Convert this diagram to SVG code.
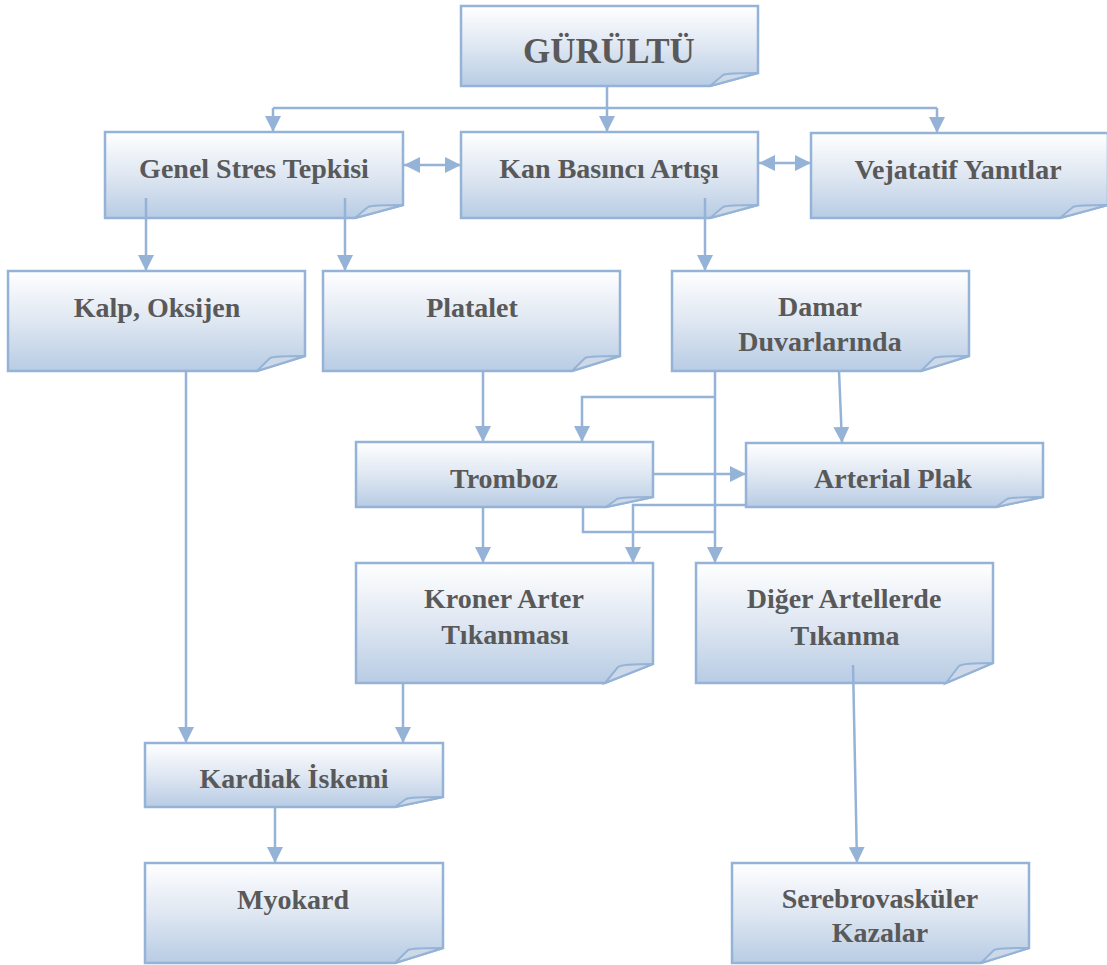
<svg xmlns="http://www.w3.org/2000/svg" width="1107" height="965" viewBox="0 0 1107 965">
<defs>
<linearGradient id="g" x1="0" y1="0" x2="0" y2="1">
<stop offset="0" stop-color="#ffffff"/>
<stop offset="0.5" stop-color="#dfe7f2"/>
<stop offset="1" stop-color="#b8cce4"/>
</linearGradient>
<marker id="ah" markerUnits="userSpaceOnUse" markerWidth="16" markerHeight="16" refX="16" refY="8" orient="auto-start-reverse" viewBox="0 0 16 16">
<path d="M0,0 L16,8 L0,16 Z" fill="#95b3d7"/>
</marker>
</defs>
<style>
.box{fill:url(#g);stroke:#95b3d7;stroke-width:2.5;stroke-linejoin:miter}
.fold{fill:#cdd9e8;stroke:#95b3d7;stroke-width:2}
.t{font-family:"Liberation Serif","Times New Roman",serif;font-weight:bold;font-size:28px;fill:#595959;text-anchor:middle}
.title{font-size:35px}
.c{fill:none;stroke:#95b3d7;stroke-width:2.5}
.a{marker-end:url(#ah)}
.d{marker-start:url(#ah);marker-end:url(#ah)}
</style>

<g id="n-gurultu">
<path class="box" d="M461,6 H758 V73 L710,86 H461 Z"/>
<path class="fold" d="M710,86 L723,75 Q727,73 758,73 Z"/>
<text class="t title" x="609" y="63">GÜRÜLTÜ</text>
</g>
<g id="n-genel">
<path class="box" d="M105,132 H403 V205 L355,218 H105 Z"/>
<path class="fold" d="M355,218 L368,207 Q372,205 403,205 Z"/>
<text class="t" x="254" y="178">Genel Stres Tepkisi</text>
</g>
<g id="n-kan">
<path class="box" d="M461,132 H758 V205 L710,218 H461 Z"/>
<path class="fold" d="M710,218 L723,207 Q727,205 758,205 Z"/>
<text class="t" x="609" y="178">Kan Basıncı Artışı</text>
</g>
<g id="n-vej">
<path class="box" d="M811,133 H1108 V205 L1060,218 H811 Z"/>
<path class="fold" d="M1060,218 L1073,207 Q1077,205 1108,205 Z"/>
<text class="t" x="958" y="179">Vejatatif Yanıtlar</text>
</g>
<g id="n-kalp">
<path class="box" d="M8,271 H305 V356 L257,371 H8 Z"/>
<path class="fold" d="M257,371 L270,358 Q274,356 305,356 Z"/>
<text class="t" x="157" y="317">Kalp, Oksijen</text>
</g>
<g id="n-platalet">
<path class="box" d="M323,271 H620 V356 L572,371 H323 Z"/>
<path class="fold" d="M572,371 L585,358 Q589,356 620,356 Z"/>
<text class="t" x="472" y="317">Platalet</text>
</g>
<g id="n-damar">
<path class="box" d="M672,271 H969 V356 L921,371 H672 Z"/>
<path class="fold" d="M921,371 L934,358 Q938,356 969,356 Z"/>
<text class="t" x="820" y="316">Damar</text>
<text class="t" x="820" y="351">Duvarlarında</text>
</g>
<g id="n-tromboz">
<path class="box" d="M356,442 H653 V497 L606,507 H356 Z"/>
<path class="fold" d="M606,507 L617,499 Q621,497 653,497 Z"/>
<text class="t" x="504" y="488">Tromboz</text>
</g>
<g id="n-arterial">
<path class="box" d="M746,443 H1043 V497 L996,507 H746 Z"/>
<path class="fold" d="M996,507 L1007,499 Q1011,497 1043,497 Z"/>
<text class="t" x="893" y="488">Arterial Plak</text>
</g>
<g id="n-kroner">
<path class="box" d="M356,563 H653 V664 L605,683 H356 Z"/>
<path class="fold" d="M605,683 L618,667 Q622,664 653,664 Z"/>
<text class="t" x="504" y="608">Kroner Arter</text>
<text class="t" x="505" y="644">Tıkanması</text>
</g>
<g id="n-diger">
<path class="box" d="M696,563 H993 V663 L946,683 H696 Z"/>
<path class="fold" d="M946,683 L959,666 Q963,663 993,663 Z"/>
<text class="t" x="844" y="608">Diğer Artellerde</text>
<text class="t" x="845" y="645">Tıkanma</text>
</g>
<g id="n-kardiak">
<path class="box" d="M145,743 H443 V797 L395,807 H145 Z"/>
<path class="fold" d="M395,807 L406,799 Q410,797 443,797 Z"/>
<text class="t" x="294" y="788">Kardiak İskemi</text>
</g>
<g id="n-myokard">
<path class="box" d="M145,863 H443 V948 L395,963 H145 Z"/>
<path class="fold" d="M395,963 L408,950 Q412,948 443,948 Z"/>
<text class="t" x="293" y="909">Myokard</text>
</g>
<g id="n-sereb">
<path class="box" d="M732,863 H1029 V948 L981,963 H732 Z"/>
<path class="fold" d="M981,963 L994,950 Q998,948 1029,948 Z"/>
<text class="t" x="880" y="908">Serebrovasküler</text>
<text class="t" x="880" y="942">Kazalar</text>
</g>

<g id="connectors">
<path class="c" d="M273,108 H937"/>
<path class="c a" d="M607,86 V132"/>
<path class="c a" d="M273,108 V132"/>
<path class="c a" d="M937,108 V133"/>
<path class="c d" d="M404,165 H461"/>
<path class="c d" d="M759,163 H811"/>
<path class="c a" d="M146,198 V271"/>
<path class="c a" d="M345,198 V271"/>
<path class="c a" d="M705,198 V271"/>
<path class="c a" d="M186,371 V743"/>
<path class="c a" d="M483,371 V442"/>
<path class="c a" d="M715,371 V563"/>
<path class="c a" d="M715,397 H582 V442"/>
<path class="c a" d="M839,371 L842,443"/>
<path class="c a" d="M653,474 H746"/>
<path class="c a" d="M746,505 H633 V563"/>
<path class="c" d="M583,507 V532 H715"/>
<path class="c a" d="M483,507 V563"/>
<path class="c a" d="M403,683 V743"/>
<path class="c a" d="M275,807 V863"/>
<path class="c a" d="M853,665 L857,863"/>
</g>
</svg>
